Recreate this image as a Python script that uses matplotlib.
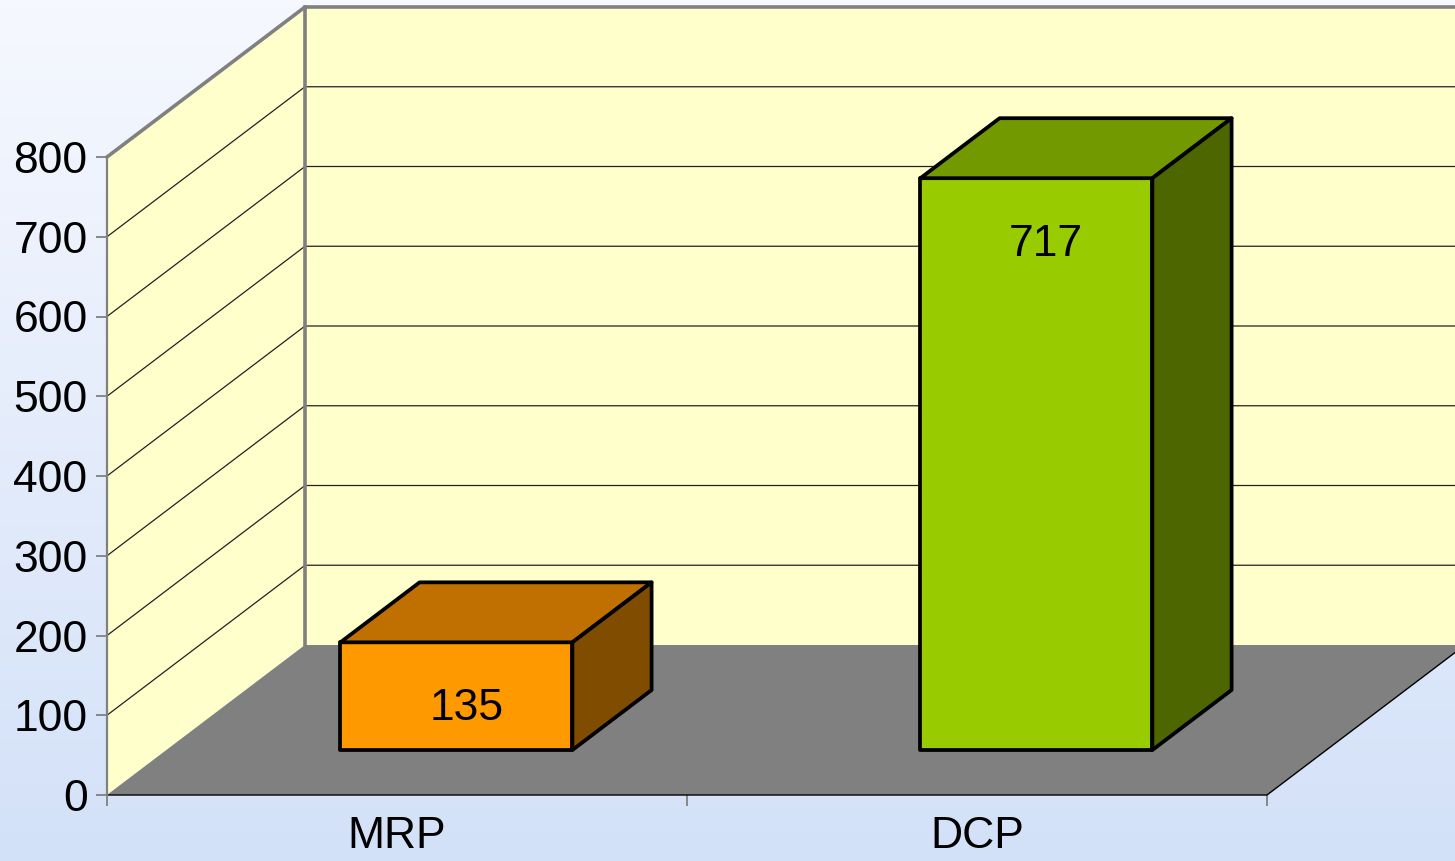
import numpy as np
import matplotlib
matplotlib.use('Agg')
import matplotlib.pyplot as plt
from matplotlib.patches import Polygon

plt.rcParams['font.family'] = ['Liberation Sans', 'DejaVu Sans']

# datos
categorias = ['MRP', 'DCP']
valores = [135, 717]
yticks = [0, 100, 200, 300, 400, 500, 600, 700, 800]

col_frente = ['#ff9900', '#99cc00']
col_techo = ['#c07000', '#739900']
col_lado = ['#804c00', '#4d6600']

W, H = 1455, 861
fig = plt.figure(figsize=(W/100, H/100), dpi=100)

# fondo degradado
axbg = fig.add_axes([0, 0, 1, 1], zorder=-5)
grad = np.linspace(0, 1, 256)[:, None]
c_top = np.array([0.965, 0.973, 0.998])
c_bot = np.array([0.827, 0.882, 0.973])
img = c_top[None, None, :]*(1-grad[:, :, None]) + c_bot[None, None, :]*grad[:, :, None]
axbg.imshow(img, aspect='auto', extent=[0, 1, 0, 1])
axbg.axis('off')

# ejes en el plano frontal
x0, x1 = 107, 1267
ytop, ybot = 157, 795
ax = fig.add_axes([x0/W, 1-ybot/H, (x1-x0)/W, (ybot-ytop)/H])
ax.patch.set_alpha(0)
ncat = len(categorias)
ymax = yticks[-1]
ax.set_xlim(0, ncat)
ax.set_ylim(0, ymax)

# proyeccion oblicua: profundidad d en [0,1]
DX = 198/(x1-x0)*ncat
DY = 150/(ybot-ytop)*ymax

def P(x, y, d):
    return (x + d*DX, y + d*DY)

pared = '#ffffcc'
gris = '#808080'

# pared izquierda
ax.add_patch(Polygon([P(0, 0, 0), P(0, ymax, 0), P(0, ymax, 1), P(0, 0, 1)],
                     closed=True, fc=pared, ec='none', clip_on=False, zorder=1))
# pared del fondo
ax.add_patch(Polygon([P(0, 0, 1), P(0, ymax, 1), P(ncat, ymax, 1), P(ncat, 0, 1)],
                     closed=True, fc=pared, ec='none', clip_on=False, zorder=1))
# grilla
for v in yticks[1:-1]:
    xs, ys = zip(P(0, v, 0), P(0, v, 1), P(ncat, v, 1))
    ax.plot(xs, ys, color='#222222', lw=0.9, clip_on=False, zorder=2)
# bordes grises
xs, ys = zip(P(0, ymax, 0), P(0, ymax, 1), P(ncat, ymax, 1))
ax.plot(xs, ys, color=gris, lw=2.6, clip_on=False, zorder=3, solid_joinstyle='miter')
xs, ys = zip(P(0, 0, 1), P(0, ymax, 1))
ax.plot(xs, ys, color=gris, lw=2.6, clip_on=False, zorder=3)

# piso
ax.add_patch(Polygon([P(0, 0, 0), P(ncat, 0, 0), P(ncat, 0, 1), P(0, 0, 1)],
                     closed=True, fc=gris, ec='none', clip_on=False, zorder=4))
xs, ys = zip(P(0, 0, 0), P(ncat, 0, 0), P(ncat, 0, 1))
ax.plot(xs, ys, color='black', lw=1.0, clip_on=False, zorder=5)

# barras 3d
d0, d1 = 0.3, 0.7
ancho = 0.4
for i, v in enumerate(valores):
    xl = i + 0.5 - ancho/2
    xr = i + 0.5 + ancho/2
    kw = dict(closed=True, ec='black', lw=2.7, clip_on=False, zorder=6, joinstyle='round')
    ax.add_patch(Polygon([P(xl, 0, d0), P(xr, 0, d0), P(xr, v, d0), P(xl, v, d0)],
                         fc=col_frente[i], **kw))
    ax.add_patch(Polygon([P(xl, v, d0), P(xr, v, d0), P(xr, v, d1), P(xl, v, d1)],
                         fc=col_techo[i], **kw))
    ax.add_patch(Polygon([P(xr, 0, d0), P(xr, 0, d1), P(xr, v, d1), P(xr, v, d0)],
                         fc=col_lado[i], **kw))
    tx, ty = P(i + 0.517, v - 83, d0)
    ax.text(tx, ty, str(v), ha='center', va='center', fontsize=32, zorder=7)

# ejes
for s in ['top', 'right']:
    ax.spines[s].set_visible(False)
ax.spines['left'].set_color(gris)
ax.spines['left'].set_linewidth(1.6)
ax.spines['left'].set_zorder(5)
ax.spines['bottom'].set_visible(False)

ax.set_yticks(yticks)
ax.tick_params(axis='y', colors=gris, labelcolor='black', length=8, width=1.3,
               labelsize=32, pad=6)
ax.set_xticks(range(ncat + 1))
ax.set_xticklabels([])
ax.set_xticks([i + 0.5 for i in range(ncat)], minor=True)
ax.set_xticklabels(categorias, minor=True)
ax.tick_params(axis='x', which='major', colors=gris, length=8, width=1.3)
ax.tick_params(axis='x', which='minor', length=0, labelsize=32, pad=15)

fig.savefig('out.png', dpi=100)
